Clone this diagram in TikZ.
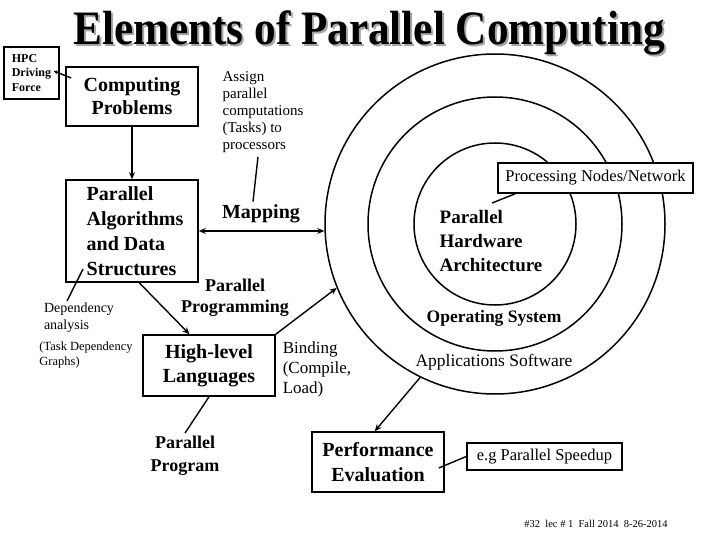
\documentclass[tikz,border=0pt]{standalone}
\usepackage{fontspec}
\setmainfont{Liberation Serif}
\usetikzlibrary{arrows.meta}
\newcommand{\fsz}[2]{\fontsize{#1}{#2}\selectfont}

\begin{document}
\begin{tikzpicture}[x=1pt,y=-1pt]
  \tikzstyle{emptyStyle}=[inner sep=0pt,align=center]
  \tikzstyle{boxStyle}=[draw,line width=1.6pt,inner sep=0pt,align=center]
  \tikzstyle{ringStyle}=[draw,circle,line width=1.5pt,inner sep=0pt]
  \tikzstyle{lineStyle}=[line width=1.4pt]
  \tikzstyle{arrowStyle}=[line width=1.4pt,-{Stealth[length=7pt,width=6pt]}]

  \useasboundingbox (0,0) rectangle (720,540);

  % title with its shadow
  \node[emptyStyle,anchor=base,text=black!35](titleshadow) at (371,47) {\fsz{48}{48}\bfseries\scalebox{0.9}[1]{Elements of Parallel Computing}};
  \node[emptyStyle,anchor=base](title) at (369,45) {\fsz{48}{48}\bfseries\scalebox{0.9}[1]{Elements of Parallel Computing}};

  % the three rings
  \node[ringStyle,minimum size=340](outer) at (495,224) {};
  \node[ringStyle,minimum size=254](middle) at (495,224) {};
  \node[ringStyle,minimum size=162](inner) at (495,224) {};

  % left column
  \node[boxStyle,minimum width=55,minimum height=52,align=left,font={\fsz{12}{14.5}\bfseries}](hpc) at (31.5,73) {HPC\\Driving\\Force};
  \node[boxStyle,minimum width=132,minimum height=59,font={\fsz{20}{23}\bfseries}](comp) at (132,96.5) {Computing\\Problems};
  \draw[lineStyle,-{Stealth[length=4pt,width=4pt]}] ([xshift=6pt,yshift=18.5pt]comp.west) -- ([xshift=-6pt,yshift=2pt]hpc.east);

  \node[boxStyle,minimum width=132,minimum height=102](algo) at (132,231) {};
  \node[emptyStyle,align=left,font={\fsz{20}{25}\bfseries}](algotext) at (135,231) {Parallel\\Algorithms\\and Data\\Structures};
  \draw[arrowStyle] (comp.south) -- (algo.north);

  \node[emptyStyle,align=left,font={\fsz{14}{17}}](dep) at (79,318) {Dependency\\analysis};
  \node[emptyStyle,align=left,font={\fsz{12.5}{15}}](depgraph) at (86,355) {(Task Dependency\\Graphs)};
  \coordinate (depend) at (83,269);
  \draw[lineStyle] ([xshift=-12pt,yshift=2pt]dep.north) -- (depend);

  % mapping
  \node[emptyStyle,align=left,font={\fsz{15}{17}}](assign) at (263,112) {Assign\\parallel\\computations\\(Tasks) to\\processors};
  \node[emptyStyle,font={\fsz{20}{20}\bfseries}](mapping) at (261,214) {Mapping};
  \draw[lineStyle] ([xshift=-5pt,yshift=-4pt]assign.south) -- ([xshift=-8pt,yshift=3pt]mapping.north);
  \draw[lineStyle,{Stealth[length=7pt,width=6pt]}-{Stealth[length=7pt,width=6pt]}] (algo.east) -- (algo.east -| outer.west);

  % programming
  \node[emptyStyle,font={\fsz{18}{21}\bfseries}](pprog) at (235,298) {Parallel\\Programming};
  \node[boxStyle,minimum width=132,minimum height=61,font={\fsz{20}{24}\bfseries}](lang) at (209,365.5) {High-level\\Languages};
  \draw[arrowStyle] (algo.-82) -- (lang.122);
  \draw[arrowStyle] (lang.north east) -- (outer.202);
  \node[emptyStyle,align=left,font={\fsz{17}{20}}](binding) at (317,369) {Binding\\(Compile,\\Load)};
  \node[emptyStyle,font={\fsz{18}{23}\bfseries}](progtext) at (185,456) {Parallel\\Program};
  \draw[lineStyle] (lang.south) -- ([yshift=3pt]progtext.north);

  % hardware side
  \node[emptyStyle,align=left,font={\fsz{19}{24}\bfseries}](hw) at (491,241) {Parallel\\Hardware\\Architecture};
  \node[emptyStyle,font={\fsz{17.5}{17.5}\bfseries}](os) at (494,318) {Operating System};
  \node[emptyStyle,font={\fsz{17.5}{17.5}}](apps) at (494,362) {Applications Software};
  \node[boxStyle,fill=white,minimum width=195,minimum height=30,font={\fsz{16.5}{16.5}}](procnet) at (595.5,178) {Processing Nodes/Network};
  \coordinate (hwtip) at (492,203);
  \draw[lineStyle] ([xshift=18pt]procnet.south west) -- (hwtip);

  % evaluation
  \node[boxStyle,minimum width=132,minimum height=60,font={\fsz{20}{25}\bfseries}](perf) at (378,462) {Performance\\Evaluation};
  \draw[arrowStyle] (outer.244) -- (perf.96);
  \node[boxStyle,minimum width=155,minimum height=27,font={\fsz{16.5}{16.5}}](speed) at (544.5,456.5) {e.g Parallel Speedup};
  \draw[lineStyle] (speed.west) -- ([xshift=-6pt,yshift=-6pt]perf.east);

  \node[emptyStyle,font={\fsz{10.5}{10.5}}](footer) at (596,524) {\#32~~lec \# 1~~Fall 2014~~8-26-2014};
\end{tikzpicture}
\end{document}
